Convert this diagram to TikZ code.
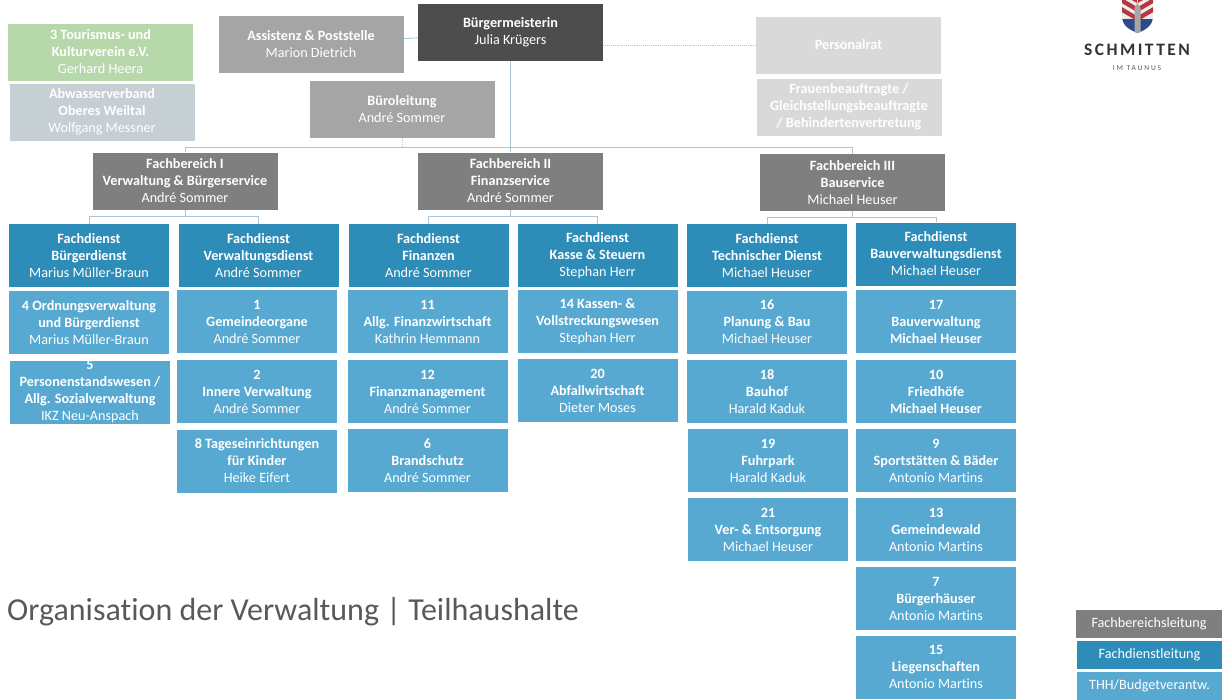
\documentclass[tikz,border=0pt]{standalone}
\usepackage{fontspec}
\setmainfont[Ligatures=NoCommon]{Carlito}
\newfontfamily\logofont[LetterSpace=14,Ligatures=NoCommon]{Carlito}
\newfontfamily\subfont[LetterSpace=25]{Carlito}
\definecolor{chefgrey}{HTML}{4D4D4D}
\definecolor{stabgrey}{HTML}{A5A5A5}
\definecolor{fbgrey}{HTML}{7F7F7F}
\definecolor{fdblue}{HTML}{2E8CB8}
\definecolor{thhblue}{HTML}{57A9D1}
\definecolor{vereingreen}{HTML}{B7D8AB}
\definecolor{verbandgrey}{HTML}{C6CFD3}
\definecolor{ratgrey}{HTML}{D9D9D9}
\definecolor{linkblue}{HTML}{A9C6D8}
\definecolor{crestred}{HTML}{B5383F}
\definecolor{crestblue}{HTML}{2F4A8A}
\begin{document}
\begin{tikzpicture}[x=1pt,y=-1pt]
	\tikzstyle{box}=[rectangle,inner sep=0pt,align=center,text=white,font=\fontsize{14.2}{17}\selectfont]
	\tikzstyle{wide}=[box,minimum width=185pt,minimum height=57pt]
	\tikzstyle{chef}=[wide,fill=chefgrey]
	\tikzstyle{stab}=[wide,fill=stabgrey]
	\tikzstyle{verein}=[wide,fill=vereingreen]
	\tikzstyle{verband}=[wide,fill=verbandgrey]
	\tikzstyle{rat}=[wide,fill=ratgrey]
	\tikzstyle{fb}=[wide,fill=fbgrey]
	\tikzstyle{fd}=[box,fill=fdblue,minimum width=160pt,minimum height=63pt]
	\tikzstyle{thh}=[box,fill=thhblue,minimum width=160pt,minimum height=63pt]
	\tikzstyle{legend}=[box,minimum width=145.5pt,minimum height=28pt,font=\fontsize{14.2}{15}\selectfont]
	\tikzstyle{edge}=[draw=linkblue,line width=0.9pt]
	\tikzstyle{dots}=[edge,densely dotted]

	\useasboundingbox (0,0) rectangle (1222,699);

	% top row
	\node [chef] (bm) at (510.5,32.5) {\textbf{Bürgermeisterin}\\Julia Krügers};
	\node [stab] (assist) at (311,44) {\textbf{Assistenz \& Poststelle}\\Marion Dietrich};
	\node [stab] (buero) at (402,109.5) {\textbf{Büroleitung}\\André Sommer};
	\node [verein] (verein) at (100.5,52) {\textbf{3 Tourismus- und}\\\textbf{Kulturverein e.V.}\\Gerhard Heera};
	\node [verband] (verband) at (102,112) {\textbf{Abwasserverband}\\\textbf{Oberes Weiltal}\\Wolfgang Messner};
	\node [rat] (rat) at (848.5,45) {\textbf{Personalrat}};
	\node [rat] (frauen) at (849,107) {\textbf{Frauenbeauftragte /}\\\textbf{Gleichstellungsbeauftragte}\\\textbf{/ Behindertenvertretung}};

	% fachbereiche
	\node [fb] (fb1) at (185,181) {\textbf{Fachbereich I}\\\textbf{Verwaltung \& Bürgerservice}\\André Sommer};
	\node [fb] (fb2) at (510.5,181) {\textbf{Fachbereich II}\\\textbf{Finanzservice}\\André Sommer};
	\node [fb] (fb3) at (852.5,182.5) {\textbf{Fachbereich III}\\\textbf{Bauservice}\\Michael Heuser};

	% fachdienste
	\node [fd] (fd1) at (89,255.5) {\textbf{Fachdienst}\\\textbf{Bürgerdienst}\\Marius Müller-Braun};
	\node [fd] (fd2) at (258.5,255.5) {\textbf{Fachdienst}\\\textbf{Verwaltungsdienst}\\André Sommer};
	\node [fd] (fd3) at (428.5,255.5) {\textbf{Fachdienst}\\\textbf{Finanzen}\\André Sommer};
	\node [fd] (fd4) at (597.5,255.5) {\textbf{Fachdienst}\\\textbf{Kasse \& Steuern}\\Stephan Herr};
	\node [fd] (fd5) at (767,255.5) {\textbf{Fachdienst}\\\textbf{Technischer Dienst}\\Michael Heuser};
	\node [fd] (fd6) at (936,254) {\textbf{Fachdienst}\\\textbf{Bauverwaltungsdienst}\\Michael Heuser};

	% teilhaushalte
	\node [thh] (t4) at (89,322.5) {\textbf{4 Ordnungsverwaltung}\\\textbf{und Bürgerdienst}\\Marius Müller-Braun};
	\node [thh] (t5) at (90,392) {\textbf{5}\\\textbf{Personenstandswesen /}\\\textbf{Allg. Sozialverwaltung}\\IKZ Neu-Anspach};

	\node [thh] (t1) at (257,321.5) {\textbf{1}\\\textbf{Gemeindeorgane}\\André Sommer};
	\node [thh] (t2) at (257,391.5) {\textbf{2}\\\textbf{Innere Verwaltung}\\André Sommer};
	\node [thh] (t8) at (257,461) {\textbf{8 Tageseinrichtungen}\\\textbf{für Kinder}\\Heike Eifert};

	\node [thh] (t11) at (427.5,321.5) {\textbf{11}\\\textbf{Allg. Finanzwirtschaft}\\Kathrin Hemmann};
	\node [thh] (t12) at (427.5,391.5) {\textbf{12}\\\textbf{Finanzmanagement}\\André Sommer};
	\node [thh] (t6) at (427.5,460.5) {\textbf{6}\\\textbf{Brandschutz}\\André Sommer};

	\node [thh] (t14) at (597.5,321.5) {\textbf{14 Kassen- \&}\\\textbf{Vollstreckungswesen}\\Stephan Herr};
	\node [thh] (t20) at (597.5,390.5) {\textbf{20}\\\textbf{Abfallwirtschaft}\\Dieter Moses};

	\node [thh] (t16) at (767,322) {\textbf{16}\\\textbf{Planung \& Bau}\\Michael Heuser};
	\node [thh] (t18) at (767,391.5) {\textbf{18}\\\textbf{Bauhof}\\Harald Kaduk};
	\node [thh] (t19) at (768,460.5) {\textbf{19}\\\textbf{Fuhrpark}\\Harald Kaduk};
	\node [thh] (t21) at (768,529.5) {\textbf{21}\\\textbf{Ver- \& Entsorgung}\\Michael Heuser};

	\node [thh] (t17) at (936,321.5) {\textbf{17}\\\textbf{Bauverwaltung}\\\textbf{Michael Heuser}};
	\node [thh] (t10) at (936,391.5) {\textbf{10}\\\textbf{Friedhöfe}\\\textbf{Michael Heuser}};
	\node [thh] (t9) at (936,460.5) {\textbf{9}\\\textbf{Sportstätten \& Bäder}\\Antonio Martins};
	\node [thh] (t13) at (936,529.5) {\textbf{13}\\\textbf{Gemeindewald}\\Antonio Martins};
	\node [thh] (t7) at (936,598.5) {\textbf{7}\\\textbf{Bürgerhäuser}\\Antonio Martins};
	\node [thh] (t15) at (936,667) {\textbf{15}\\\textbf{Liegenschaften}\\Antonio Martins};

	% connectors
	\coordinate (trunk) at (510.5,147);
	\coordinate (drop) at (402,147);
	\coordinate (fork1) at (185,216);
	\coordinate (fork2) at (510.5,216);
	\coordinate (fork3) at (852.5,217);

	\path[edge] (bm) -- (fb2);
	\path[edge] (assist) -- (bm);
	\path[edge] (trunk) -| (fb1);
	\path[edge] (trunk) -| (fb3);
	\path[dots] (buero) -- (drop);
	\path[dots] (bm.east |- rat) -- (rat);

	\path[edge] (fb1) -- (fork1);
	\path[edge] (fork1) -| (fd1);
	\path[edge] (fork1) -| (fd2);
	\path[edge] (fb2) -- (fork2);
	\path[edge] (fork2) -| (fd3);
	\path[edge] (fork2) -| (fd4);
	\path[edge] (fb3) -- (fork3);
	\path[edge] (fork3) -| (fd5);
	\path[edge] (fork3) -| (fd6);

	% title and legend
	\node [anchor=west,inner sep=0pt,text=black!65,font=\fontsize{32}{36}\selectfont] (title) at (7,612) {Organisation der Verwaltung | Teilhaushalte};
	\node [legend,fill=fbgrey] (lfb) at (1149,623.5) {Fachbereichsleitung};
	\node [legend,fill=fdblue] (lfd) at (1149.5,654.5) {Fachdienstleitung};
	\node [legend,fill=thhblue] (lthh) at (1149.5,685.5) {THH/Budgetverantw.};

	% logo
	\begin{scope}
		\clip (1122,-1) -- (1153,-1) -- (1153,16) .. controls (1153,26) and (1145,30) .. (1137.5,33) .. controls (1130,30) and (1122,26) .. (1122,16) -- cycle;
		\fill[white!92!black] (1120,-1) rectangle (1155,34);
		\foreach \s in {-12,-3,6} {
			\fill[crestred] (1120,\s) -- (1137,\s+10) -- (1137,\s+15) -- (1120,\s+5) -- cycle;
			\fill[crestred] (1155,\s) -- (1138,\s+10) -- (1138,\s+15) -- (1155,\s+5) -- cycle;
		}
		\fill[crestblue] (1120,19) rectangle (1155,34);
		\fill[black!35] (1134.5,8) -- (1137.5,3) -- (1140.5,8) -- (1140.5,34) -- (1134.5,34) -- cycle;
	\end{scope}
	\node [inner sep=0pt,text=black!80,font=\logofont\bfseries\fontsize{17.5}{19}\selectfont] (logo) at (1137,50) {SCHMITTEN};
	\node [inner sep=0pt,text=black!65,font=\subfont\fontsize{7.5}{9}\selectfont] (logosub) at (1137,68) {IM TAUNUS};
\end{tikzpicture}
\end{document}
